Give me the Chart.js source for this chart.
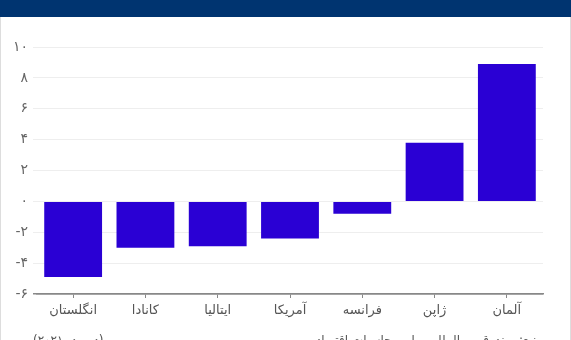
<!DOCTYPE html>
<html lang="fa">
<head>
<meta charset="utf-8">
<script src="https://cdn.jsdelivr.net/npm/chart.js@4.4.1/dist/chart.umd.min.js"></script>
<style>
  html, body { margin: 0; padding: 0; background: #fff; }
  body { width: 571px; height: 340px; overflow: hidden; position: relative; font-family: "DejaVu Sans", sans-serif; }
  .frame { position: absolute; left: 0; top: 0; width: 569px; height: 340px; border-left: 1px solid #ddd; border-right: 1px solid #ddd; }
  .header { position: absolute; left: 0; top: 0; width: 571px; height: 17px; background: #003470; }
  #chart { position: absolute; left: 0; top: 0; }
  .note { position: absolute; top: 333px; font-size: 12px; color: #555; white-space: nowrap; direction: rtl; }
</style>
</head>
<body>
<div class="frame"></div>
<div class="header"></div>
<canvas id="chart" width="571" height="340"></canvas>
<div class="note" style="left:33px">(درصد، ۲۰۲۱)</div>
<div class="note" style="right:28px">منبع: صندوق بین‌المللی پول، محاسبات اقتصاد</div>
<script>
// کشورها و درصد تغییر
const countries = ["انگلستان", "کانادا", "ایتالیا", "آمریکا", "فرانسه", "ژاپن", "آلمان"];
const changes = [-4.9, -3.0, -2.9, -2.4, -0.8, 3.8, 8.9];
const yMin = -6;
const yMax = 10;
const yStep = 2;

const faDigits = "۰۱۲۳۴۵۶۷۸۹";
function toFa(n) {
  return String(n).replace(/\d/g, d => faDigits[d]);
}

const ctx = document.getElementById("chart").getContext("2d");
new Chart(ctx, {
  type: "bar",
  data: {
    labels: countries,
    datasets: [{
      data: changes,
      backgroundColor: "#2a00d4",
      borderWidth: 0,
      categoryPercentage: 0.8,
      barPercentage: 1
    }]
  },
  options: {
    responsive: false,
    animation: false,
    layout: { padding: { top: 47, right: 28, bottom: 0, left: 0 } },
    plugins: { legend: { display: false }, tooltip: { enabled: false } },
    scales: {
      x: {
        grid: { offset: false, drawOnChartArea: false, drawTicks: true, tickLength: 4, color: "#888" },
        border: { color: "#888", width: 1.5 },
        ticks: { color: "#555", padding: 5, font: { family: "DejaVu Sans", size: 13 } },
        afterFit: s => { s.height = 46; }
      },
      y: {
        min: yMin,
        max: yMax,
        grid: {
          tickLength: 4,
          color: c => (c.tick && c.tick.value === yMin) ? "#888" : "#eeeeee",
          lineWidth: c => (c.tick && c.tick.value === yMin) ? 1.5 : 1
        },
        border: { display: false },
        ticks: {
          stepSize: yStep,
          color: "#666",
          padding: 5,
          font: { family: "DejaVu Sans", size: 14 },
          callback: v => (v < 0 ? "-" : "") + toFa(Math.abs(v))
        },
        afterFit: s => { s.width = 37; }
      }
    }
  }
});
</script>
</body>
</html>
